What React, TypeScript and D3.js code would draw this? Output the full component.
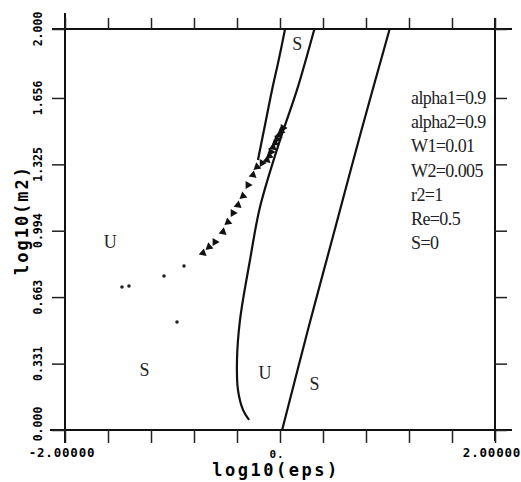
import React, { useEffect, useRef } from "react";
import * as d3 from "d3";

// tick values / labels
const xTickValues = [-2, -1.6, -1.2, -0.8, -0.4, 0, 0.4, 0.8, 1.2, 1.6, 2];
const xLabelValues = [-2, 0, 2];
const xLabelTexts = ["-2.00000", "0.", "2.00000"];
const yTickValues = [0, 0.331, 0.663, 0.994, 1.325, 1.656, 2.0];
const yTickTexts = ["0.000", "0.331", "0.663", "0.994", "1.325", "1.656", "2.000"];

// neutral curves
const curve1X = [0.047, -0.01, -0.074, -0.14, -0.205];
const curve1Y = [2.0, 1.85, 1.696, 1.52, 1.347];
const curve2X = [0.32, 0.158, 0.0, -0.186, -0.279, -0.372, -0.4, -0.391, -0.344, -0.288];
const curve2Y = [2.0, 1.696, 1.446, 1.112, 0.848, 0.549, 0.349, 0.2, 0.1, 0.05];
const curve3X = [0.02, 0.26, 0.49, 0.75, 1.02];
const curve3Y = [0.0, 0.5, 0.96, 1.48, 2.0];

// computed points (triangles and dots)
const triX = [0.028, 0.01, -0.009, -0.028, -0.047, -0.065, -0.084, -0.1, -0.121, -0.167, -0.214, -0.251, -0.298, -0.344, -0.391, -0.437, -0.484, -0.53, -0.605, -0.66, -0.716];
const triY = [1.506, 1.49, 1.471, 1.45, 1.431, 1.41, 1.387, 1.367, 1.347, 1.332, 1.312, 1.272, 1.222, 1.167, 1.122, 1.082, 1.037, 0.988, 0.938, 0.913, 0.883];
const dotX = [-0.893, -1.079, -1.405, -1.47, -0.958];
const dotY = [0.818, 0.768, 0.718, 0.713, 0.539];

// region labels
const regionText = ["S", "U", "S", "U", "S"];
const regionX = [0.16, -1.58, -1.26, -0.14, 0.32];
const regionY = [1.925, 0.94, 0.3, 0.287, 0.23];

const paramLines = ["alpha1=0.9", "alpha2=0.9", "W1=0.01", "W2=0.005", "r2=1", "Re=0.5", "S=0"];

const App = () => {
  const ref = useRef<SVGSVGElement>(null);

  useEffect(() => {
    const svg = d3.select(ref.current);
    svg.selectAll("*").remove();

    const x = d3.scaleLinear().domain([-2, 2]).range([65, 495]);
    const y = d3.scaleLinear().domain([0, 2]).range([430, 29]);
    const mono = "'DejaVu Sans Mono', monospace";
    const serif = "'Liberation Serif', 'Times New Roman', serif";

    // frame lines, a bit longer than the plot area like the original
    const frame = svg.append("g").attr("stroke", "#111").attr("stroke-width", 2);
    frame.append("line").attr("x1", 52).attr("x2", 512).attr("y1", y(2)).attr("y2", y(2));
    frame.append("line").attr("x1", 50).attr("x2", 512).attr("y1", y(0)).attr("y2", y(0));
    frame.append("line").attr("x1", x(-2)).attr("x2", x(-2)).attr("y1", 13).attr("y2", 443);
    frame.append("line").attr("x1", x(2)).attr("x2", x(2)).attr("y1", 18).attr("y2", 441);

    const noLabel = () => "";
    svg.append("g")
      .attr("transform", `translate(0,${y(0)})`)
      .call(d3.axisBottom(x).tickValues(xTickValues).tickSize(13).tickFormat(noLabel))
      .call((g) => g.select(".domain").remove());
    svg.append("g")
      .attr("transform", `translate(0,${y(2)})`)
      .call(d3.axisTop(x).tickValues(xTickValues).tickSize(11).tickFormat(noLabel))
      .call((g) => g.select(".domain").remove());
    svg.append("g")
      .attr("transform", `translate(${x(-2)},0)`)
      .call(d3.axisLeft(y).tickValues(yTickValues).tickSize(13).tickFormat(noLabel))
      .call((g) => g.select(".domain").remove());
    svg.append("g")
      .attr("transform", `translate(${x(2)},0)`)
      .call(d3.axisRight(y).tickValues(yTickValues).tickSize(12).tickFormat(noLabel))
      .call((g) => g.select(".domain").remove());
    svg.selectAll(".tick line").attr("stroke", "#222").attr("stroke-width", 1.5);

    // x tick labels
    svg.append("g")
      .selectAll("text")
      .data(xLabelValues)
      .join("text")
      .attr("x", (d) => x(d) + (d === 2 ? -3 : d === -2 ? -3 : -3))
      .attr("y", (d) => (d === 0 ? 458 : 457))
      .attr("text-anchor", "middle")
      .attr("font-family", mono)
      .attr("font-weight", "bold")
      .attr("font-size", (d) => (d === 0 ? 11 : 12.5))
      .attr("letter-spacing", 0.8)
      .text((d, i) => xLabelTexts[i]);

    // y tick labels (rotated)
    svg.append("g")
      .selectAll("text")
      .data(yTickValues)
      .join("text")
      .attr("transform", (d) => `translate(42,${y(d) - (d === 0 ? 6 : 0)}) rotate(-90)`)
      .attr("text-anchor", "middle")
      .attr("font-family", mono)
      .attr("font-weight", "bold")
      .attr("font-size", 11.5)
      .text((d, i) => yTickTexts[i]);

    // axis titles
    svg.append("text")
      .attr("x", 276)
      .attr("y", 476)
      .attr("text-anchor", "middle")
      .attr("font-family", mono)
      .attr("font-weight", "bold")
      .attr("font-size", 17)
      .attr("letter-spacing", 2.5)
      .text("log10(eps)");
    svg.append("text")
      .attr("transform", "translate(28,220) rotate(-90)")
      .attr("text-anchor", "middle")
      .attr("font-family", mono)
      .attr("font-weight", "bold")
      .attr("font-size", 17)
      .attr("letter-spacing", 2)
      .text("log10(m2)");

    // curves
    const line = d3.line<number>().curve(d3.curveCatmullRom.alpha(0.5));
    const curves = [
      [curve1X, curve1Y],
      [curve2X, curve2Y],
      [curve3X, curve3Y],
    ];
    svg.append("g")
      .selectAll("path")
      .data(curves)
      .join("path")
      .attr("d", ([xs, ys]) => line.x((d) => x(d)).y((d, i) => y(ys[i]))(xs))
      .attr("fill", "none")
      .attr("stroke", "#111")
      .attr("stroke-width", 2.2);

    // triangles
    const tri = d3.symbol(d3.symbolTriangle, 28);
    svg.append("g")
      .selectAll("path")
      .data(triX)
      .join("path")
      .attr("d", tri)
      .attr("transform", (d, i) => `translate(${x(d)},${y(triY[i])}) rotate(${-30 + (i % 3) * 20})`)
      .attr("fill", "#111");

    // small dots
    svg.append("g")
      .selectAll("circle")
      .data(dotX)
      .join("circle")
      .attr("cx", (d) => x(d))
      .attr("cy", (d, i) => y(dotY[i]))
      .attr("r", 1.8)
      .attr("fill", "#222");

    // region labels
    svg.append("g")
      .selectAll("text")
      .data(regionText)
      .join("text")
      .attr("x", (d, i) => x(regionX[i]))
      .attr("y", (d, i) => y(regionY[i]))
      .attr("dy", "0.35em")
      .attr("text-anchor", "middle")
      .attr("font-family", serif)
      .attr("font-size", 18)
      .attr("fill", "#222")
      .text((d) => d);

    // parameter block
    svg.append("g")
      .selectAll("text")
      .data(paramLines)
      .join("text")
      .attr("x", 411)
      .attr("y", (d, i) => 104 + i * 24.2)
      .attr("font-family", serif)
      .attr("font-size", 18)
      .attr("letter-spacing", -0.6)
      .attr("fill", "#222")
      .text((d) => d);
  });

  return (
    <svg
      ref={ref}
      width={521}
      height={482}
      style={{ position: "absolute", left: 0, top: 0, background: "#fff" }}
    ></svg>
  );
};

export default App;
